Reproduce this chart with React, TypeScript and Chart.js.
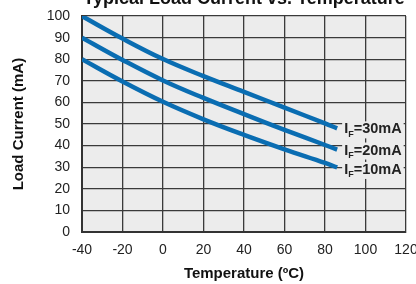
import React, { useEffect, useRef } from "react";
import { Chart, registerables } from "chart.js";

Chart.register(...registerables);

// ---- data ----
const temperatures = [-40, -20, 0, 20, 40, 60, 80, 86];
const load30mA = [100, 89.6, 80.1, 72.2, 64.9, 57.6, 50.3, 48];
const load20mA = [90, 79.7, 70.2, 62.1, 54.6, 47.3, 40.3, 38.2];
const load10mA = [80, 69.7, 60.3, 52.2, 45, 38.3, 32, 29.9];
const seriesLabels = ["30mA", "20mA", "10mA"];
const xTickValues = [-40, -20, 0, 20, 40, 60, 80, 100, 120];
const yTickValues = [0, 10, 20, 30, 40, 50, 60, 70, 80, 90, 100];
const chartTitle = "Typical Load Current vs. Temperature";
const xAxisTitle = "Temperature (ºC)";
const yAxisTitle = "Load Current (mA)";

const FONT = "'Liberation Sans', Arial, Helvetica, sans-serif";
const LINE_COLOR = "#0a6db2";
const PLOT_BG = "#ececec";
const GRID = "#3a3a3a";

const plotBackground = {
  id: "plotBackground",
  beforeDraw(chart: any) {
    const { ctx, chartArea } = chart;
    ctx.save();
    ctx.fillStyle = PLOT_BG;
    ctx.fillRect(chartArea.left, chartArea.top, chartArea.right - chartArea.left, chartArea.bottom - chartArea.top);
    ctx.restore();
  },
};

const endLabels = {
  id: "endLabels",
  afterDatasetsDraw(chart: any) {
    const { ctx } = chart;
    ctx.save();
    chart.data.datasets.forEach((ds: any, i: number) => {
      const meta = chart.getDatasetMeta(i);
      const pt = meta.data[meta.data.length - 1];
      if (!pt) return;
      const x = pt.x + 7;
      const y = pt.y + 1 + (i === 2 ? 1.5 : 0);
      const big = `bold 14.5px ${FONT}`;
      const small = `bold 9px ${FONT}`;
      ctx.font = big;
      const wI = ctx.measureText("I").width;
      const rest = "=" + ds.label;
      const wRest = ctx.measureText(rest).width;
      ctx.font = small;
      const wF = ctx.measureText("F").width;
      const total = wI + wF + wRest;
      ctx.fillStyle = PLOT_BG;
      ctx.fillRect(x - 2, y - 8, total + 4, 17);
      ctx.fillStyle = "#222";
      ctx.textBaseline = "middle";
      ctx.textAlign = "left";
      ctx.font = big;
      ctx.fillText("I", x, y);
      ctx.font = small;
      ctx.fillText("F", x + wI, y + 5);
      ctx.font = big;
      ctx.fillText(rest, x + wI + wF, y);
    });
    ctx.restore();
  },
};

export default function App() {
  const ref = useRef<HTMLCanvasElement>(null);

  useEffect(() => {
    const canvas = ref.current;
    if (!canvas) return;
    const mk = (label: string, vals: number[]) => ({
      label,
      data: temperatures.map((t, i) => ({ x: t, y: vals[i] })),
      borderColor: LINE_COLOR,
      backgroundColor: LINE_COLOR,
      borderWidth: 4.5,
      pointRadius: 0,
      tension: 0.4,
      borderCapStyle: "butt" as const,
      fill: false,
    });
    const chart = new Chart(canvas, {
      type: "line",
      data: {
        datasets: [
          mk(seriesLabels[0], load30mA),
          mk(seriesLabels[1], load20mA),
          mk(seriesLabels[2], load10mA),
        ],
      },
      options: {
        animation: false,
        responsive: false,
        devicePixelRatio: 1,
        layout: { padding: { top: 8.5, right: 54, bottom: 0, left: 0 } },
        plugins: {
          legend: { display: false },
          tooltip: { enabled: false },
          title: {
            display: true,
            text: chartTitle,
            fullSize: false,
            color: "#111",
            font: { family: FONT, size: 18, weight: "bold", lineHeight: 1.2 },
            padding: { top: 0, bottom: 6 },
          },
        },
        scales: {
          x: {
            type: "linear",
            min: -40,
            max: 120,
            afterBuildTicks: (s: any) => {
              s.ticks = xTickValues.map((v) => ({ value: v }));
            },
            afterFit: (s: any) => {
              s.height = 52;
            },
            grid: { color: GRID, lineWidth: 1.3, drawTicks: false },
            border: { display: true, color: "#333", width: 2 },
            ticks: { color: "#222", padding: 10, font: { family: FONT, size: 14 } },
            title: {
              display: true,
              text: xAxisTitle,
              color: "#111",
              font: { family: FONT, size: 15, weight: "bold", lineHeight: 1.2 },
              padding: { top: 0, bottom: 1.5 },
            },
          },
          y: {
            type: "linear",
            min: 0,
            max: 100,
            afterBuildTicks: (s: any) => {
              s.ticks = yTickValues.map((v) => ({ value: v }));
            },
            afterFit: (s: any) => {
              s.width = 82;
            },
            grid: { color: GRID, lineWidth: 1.3, drawTicks: false },
            border: { display: true, color: "#333", width: 2 },
            ticks: { color: "#222", padding: 12, font: { family: FONT, size: 14 } },
            title: {
              display: true,
              text: yAxisTitle,
              color: "#111",
              font: { family: FONT, size: 15, weight: "bold", lineHeight: 1.2 },
              padding: { top: 10, bottom: 0 },
            },
          },
        },
      },
      plugins: [plotBackground, endLabels],
    });
    return () => chart.destroy();
  }, []);

  return (
    <div
      style={{
        position: "fixed",
        left: 0,
        top: 0,
        width: 416,
        height: 284,
        overflow: "hidden",
        background: "#fff",
      }}
    >
      <canvas
        ref={ref}
        width={460}
        height={304}
        style={{ position: "absolute", left: 0, top: -20, width: 460, height: 304 }}
      />
    </div>
  );
}
